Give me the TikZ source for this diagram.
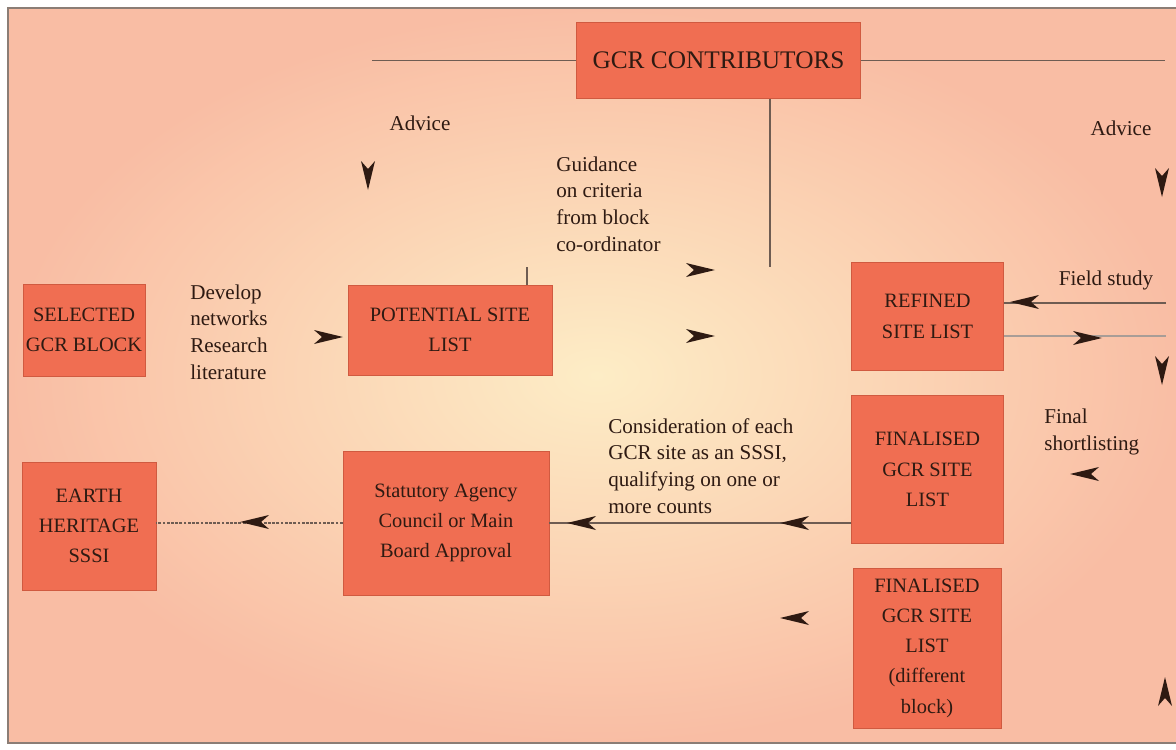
\documentclass[tikz,border=0pt]{standalone}
\usepackage{fontspec}
\setmainfont{Liberation Serif}
\definecolor{boxfill}{HTML}{F06E52}
\definecolor{boxline}{HTML}{D05A40}
\definecolor{ink}{HTML}{2E1A12}
\definecolor{wire}{HTML}{6E5C52}
\definecolor{bgedge}{HTML}{F9BDA4}
\definecolor{bgmid}{HTML}{FDEDC6}
\begin{document}
\begin{tikzpicture}[x=0.025cm,y=-0.025cm,
    box/.style={rectangle,fill=boxfill,draw=boxline,line width=0.6pt,text=ink,
      align=center,inner sep=2pt,font=\fontsize{14.5}{21.5}\selectfont},
    lbl/.style={text=ink,inner sep=0pt,font=\fontsize{15}{19}\selectfont},
    wireline/.style={draw=wire,line width=1.1pt},
    dart/.pic={\fill[ink] (15,0) -- (-14,7) -- (-6,0) -- (-14,-7) -- cycle;}]
    \useasboundingbox (0,0) rectangle (1176,749);
    \fill[white] (0,0) rectangle (1176,749);
    \shade[inner color=bgmid,outer color=bgedge] (8,8) rectangle (1185,743);
    \draw[draw=wire!80,line width=1.4pt] (1185,8) -- (8,8) -- (8,743) -- (1185,743);

    % Boxes
    \node at (718.5, 60.5) [box,minimum width=7.08cm,minimum height=1.88cm,
      font=\fontsize{18}{20}\selectfont] (contrib) {GCR CONTRIBUTORS};
    \node at (84, 330) [box,minimum width=3.05cm,minimum height=2.3cm] (selected)
    {SELECTED\\GCR BLOCK};
    \node at (450, 330) [box,minimum width=5.1cm,minimum height=2.25cm] (potential)
    {POTENTIAL SITE\\LIST};
    \node at (927.5, 316.5) [box,minimum width=3.78cm,minimum height=2.68cm] (refined)
    {REFINED\\SITE LIST};
    \node at (927.5, 469.5) [box,minimum width=3.78cm,minimum height=3.68cm] (finalised)
    {FINALISED\\GCR SITE\\LIST};
    \node at (927, 648) [box,minimum width=3.7cm,minimum height=4cm] (different)
    {FINALISED\\GCR SITE\\LIST\\(different\\block)};
    \node at (446, 523) [box,minimum width=5.15cm,minimum height=3.6cm] (statutory)
    {Statutory Agency\\Council or Main\\Board Approval};
    \node at (89, 526) [box,minimum width=3.35cm,minimum height=3.2cm] (earth)
    {EARTH\\HERITAGE\\SSSI};

    % Labels
    \node at (420, 123) [lbl] (adviceL) {Advice};
    \node at (1121, 128) [lbl] (adviceR) {Advice};
    \node at (556, 204) [lbl,anchor=west,align=left] (guidance)
    {Guidance\\on criteria\\from block\\co-ordinator};
    \node at (190, 332) [lbl,anchor=west,align=left] (develop)
    {Develop\\networks\\Research\\literature};
    \node at (1106, 280) [lbl] (field) {Field study};
    \node at (1044, 432) [lbl,anchor=west,align=left] (shortlist)
    {Final\\shortlisting};
    \node at (608, 466) [lbl,anchor=west,align=left] (consider)
    {Consideration of each\\GCR site as an SSSI,\\qualifying on one or\\more counts};

    % Free ends of the lines
    \coordinate (advL) at (372, 58);
    \coordinate (advR) at (1165, 58);
    \coordinate (drop) at (770, 267);
    \coordinate (tick) at (527, 267);
    \coordinate (fieldin) at (1166, 303);
    \coordinate (fieldout) at (1166, 336);

    % Lines
    \draw[wireline] (contrib.west) -- (contrib.west -| advL);
    \draw[wireline] (contrib.east) -- (contrib.east -| advR);
    \draw[wireline] (contrib.south -| drop) -- (drop);
    \draw[wireline] (tick) -- (tick |- potential.north);
    \draw[wireline] (fieldin) -- (refined.east |- fieldin);
    \draw[draw=wire!60,line width=0.8pt] (refined.east |- fieldout) -- (fieldout);
    \draw[wireline] (finalised.west |- statutory.east) -- (statutory.east);
    \draw[wireline,dash pattern=on 2pt off 1pt] (statutory.west) -- (statutory.west -| earth.east);

    % Arrow heads
    \pic[rotate=-90] at (368, 175) {dart};
    \pic[rotate=-90] at (1162, 182) {dart};
    \pic at (700, 270) {dart};
    \pic at (700, 336) {dart};
    \pic at (328, 337) {dart};
    \pic[rotate=180] at (1025, 302) {dart};
    \pic at (1087, 338) {dart};
    \pic[rotate=-90] at (1162, 370) {dart};
    \pic[rotate=180] at (1085, 474) {dart};
    \pic[rotate=180] at (582, 523) {dart};
    \pic[rotate=180] at (795, 523) {dart};
    \pic[rotate=180] at (255, 522) {dart};
    \pic[rotate=180] at (795, 618) {dart};
    \pic[rotate=90] at (1165, 692) {dart};
\end{tikzpicture}
\end{document}
